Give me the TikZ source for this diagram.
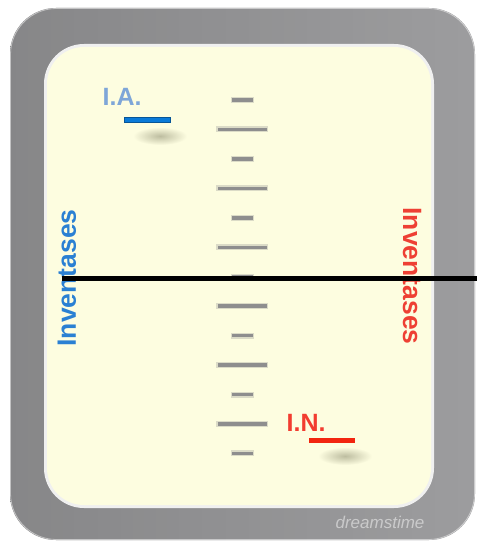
\documentclass[tikz,border=0pt]{standalone}
\usepackage{fontspec}
\setmainfont{Liberation Sans}
\usetikzlibrary{positioning}

\definecolor{gelcream}{HTML}{FDFDE0}
\definecolor{metaldark}{HTML}{626262}
\definecolor{metalmid}{HTML}{8A8A8A}
\definecolor{metallight}{HTML}{B4B4B8}
\definecolor{markergray}{HTML}{8E8E8E}
\definecolor{smudge}{HTML}{BDBDA0}
\definecolor{acidblue}{HTML}{0A7AD8}
\definecolor{acidlabel}{HTML}{7EA6D8}
\definecolor{acidside}{HTML}{2A80D3}
\definecolor{neutralred}{HTML}{F2250F}
\definecolor{neutrallabel}{HTML}{F23C30}
\definecolor{neutralside}{HTML}{EE4034}

\tikzset{
  ladder/.style={rectangle, fill=markergray, inner sep=0pt, minimum height=3.5pt,
    preaction={draw=markergray, line width=2.5pt, draw opacity=0.3}},
  sample/.style={rectangle, inner sep=0pt, minimum width=46pt, minimum height=5pt},
  tag/.style={inner sep=0pt, font=\bfseries\fontsize{25}{25}\selectfont},
  side/.style={inner sep=0pt, font=\bfseries\fontsize{26.5}{26.5}\selectfont}
}

\begin{document}
\begin{tikzpicture}[x=1pt,y=-1pt]
  \useasboundingbox (0,0) rectangle (477,548);

  % metal frame
  \begin{scope}
    \clip[rounded corners=46pt] (10,8) rectangle (475,540);
    \shade[left color=metaldark, right color=metalmid] (10,8) rectangle (475,540);
    \shade[top color=metallight, middle color=metalmid, bottom color=metallight, opacity=0.45]
      (10,8) rectangle (475,540);
  \end{scope}
  \draw[rounded corners=46pt, white, opacity=0.5, line width=0.8pt] (10.5,8.5) rectangle (474.5,539.5);

  % gel
  \fill[rounded corners=40pt, white!88!gray] (44,44) rectangle (434,508);
  \fill[rounded corners=37pt, gelcream] (47,47) rectangle (431,505);
  \node[text=white!85!gray, opacity=0.6, font=\itshape\fontsize{17}{17}\selectfont]
    (stamp) at (380,522) {dreamstime};

  % ladder
  \foreach \i in {0,...,12}{
    \pgfmathsetmacro\yy{100+29.45*\i}
    \ifodd\i
      \node[ladder, minimum width=49pt] (m\i) at (242,\yy) {};
    \else
      \node[ladder, minimum width=21pt] (m\i) at (242.5,\yy) {};
    \fi
  }

  % smudges under the samples
  \shade[inner color=smudge, outer color=gelcream] (160,136) ellipse (27pt and 9pt);
  \shade[inner color=smudge, outer color=gelcream] (345,456) ellipse (27pt and 9pt);

  % samples
  \node[sample, fill=acidblue, draw=acidblue!70!black, line width=0.6pt] (iaBand) at (147,119.5) {};
  \node[sample, fill=neutralred] (inBand) at (332,440) {};
  \node[tag, text=acidlabel]    (ia) [above left=11pt and -18pt of iaBand] {I.A.};
  \node[tag, text=neutrallabel] (in) [above left=6pt and -17pt of inBand] {I.N.};

  \node[side, text=acidside, rotate=90]     (left)  at (67,278) {Inventases};
  \node[side, text=neutralside, rotate=-90] (right) at (412,276) {Inventases};

  % cut line
  \coordinate (cutL) at (62,278.3);
  \coordinate (cutR) at (477,278.3);
  \draw[line width=4.5pt] (cutL) -- (cutR);
\end{tikzpicture}
\end{document}
